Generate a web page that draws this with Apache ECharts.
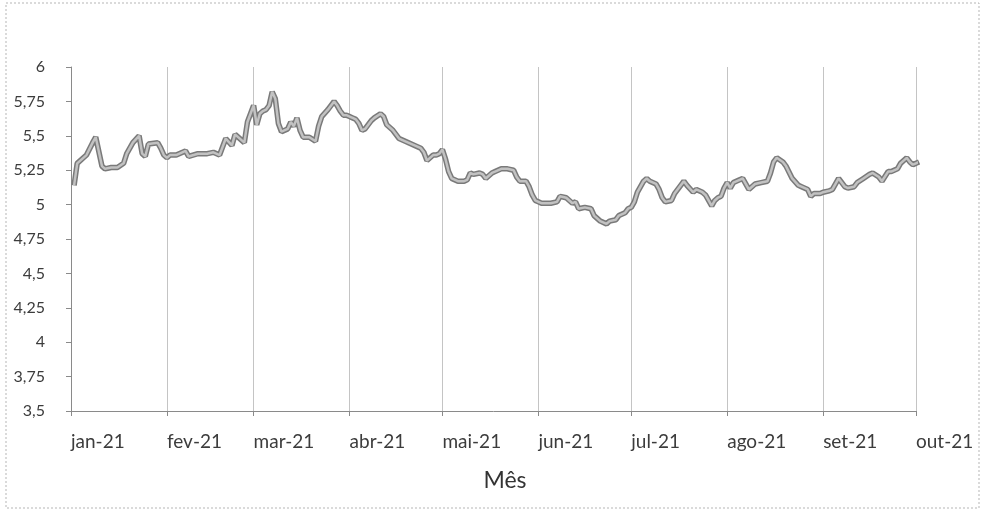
<!DOCTYPE html>
<html><head><meta charset="utf-8">
<script src="https://cdn.jsdelivr.net/npm/echarts@6/dist/echarts.min.js"></script>
<style>html,body{margin:0;padding:0;background:#fff}#c{width:982px;height:515px}</style>
</head><body><div id="c"></div>
<script>
const dates = [
'2021-01-02','2021-01-03','2021-01-05','2021-01-06','2021-01-08','2021-01-09','2021-01-11','2021-01-12','2021-01-14','2021-01-16',
'2021-01-18','2021-01-19','2021-01-21','2021-01-23','2021-01-24','2021-01-25','2021-01-26','2021-01-29','2021-01-30','2021-01-31',
'2021-02-01','2021-02-02','2021-02-04','2021-02-07','2021-02-08','2021-02-11','2021-02-14','2021-02-16','2021-02-18','2021-02-20',
'2021-02-22','2021-02-23','2021-02-26','2021-02-27',
'2021-03-01','2021-03-02','2021-03-03','2021-03-04','2021-03-05','2021-03-06','2021-03-07','2021-03-08','2021-03-09','2021-03-10',
'2021-03-12','2021-03-13','2021-03-14','2021-03-15','2021-03-16','2021-03-17','2021-03-19','2021-03-21','2021-03-22','2021-03-23',
'2021-03-25','2021-03-27','2021-03-28','2021-03-29','2021-03-30','2021-03-31',
'2021-04-01','2021-04-02','2021-04-03','2021-04-04','2021-04-05','2021-04-06','2021-04-08','2021-04-09','2021-04-11','2021-04-12',
'2021-04-13','2021-04-15','2021-04-17','2021-04-19','2021-04-22','2021-04-24','2021-04-25','2021-04-26','2021-04-28','2021-04-29','2021-04-30',
'2021-05-01','2021-05-02','2021-05-03','2021-05-04','2021-05-06','2021-05-08','2021-05-09','2021-05-10','2021-05-11','2021-05-13',
'2021-05-14','2021-05-15','2021-05-17','2021-05-18','2021-05-20','2021-05-22','2021-05-24','2021-05-25','2021-05-26','2021-05-28',
'2021-05-29','2021-05-30','2021-05-31',
'2021-06-01','2021-06-02','2021-06-03','2021-06-05','2021-06-07','2021-06-08','2021-06-10','2021-06-12','2021-06-13','2021-06-14',
'2021-06-16','2021-06-18','2021-06-19','2021-06-21','2021-06-23','2021-06-24','2021-06-26','2021-06-27','2021-06-29','2021-06-30',
'2021-07-01','2021-07-02','2021-07-03','2021-07-04','2021-07-05','2021-07-06','2021-07-07','2021-07-09','2021-07-10','2021-07-11',
'2021-07-12','2021-07-14','2021-07-15','2021-07-17','2021-07-18','2021-07-19','2021-07-21','2021-07-22','2021-07-24','2021-07-25',
'2021-07-27','2021-07-28','2021-07-29','2021-07-30','2021-07-31',
'2021-08-01','2021-08-02','2021-08-03','2021-08-05','2021-08-06','2021-08-07','2021-08-08','2021-08-10','2021-08-12','2021-08-14',
'2021-08-15','2021-08-16','2021-08-17','2021-08-19','2021-08-20','2021-08-22','2021-08-24','2021-08-25','2021-08-27','2021-08-28',
'2021-08-29','2021-08-31',
'2021-09-01','2021-09-03','2021-09-04','2021-09-05','2021-09-06','2021-09-08','2021-09-09','2021-09-11','2021-09-12','2021-09-14',
'2021-09-16','2021-09-17','2021-09-19','2021-09-20','2021-09-22','2021-09-23','2021-09-25','2021-09-26','2021-09-28','2021-09-29',
'2021-09-30','2021-10-01','2021-10-02'
];
const values = [
5.14,5.30,5.34,5.36,5.45,5.49,5.28,5.26,5.27,5.27,
5.30,5.37,5.45,5.50,5.37,5.35,5.44,5.45,5.41,5.36,
5.34,5.36,5.36,5.39,5.35,5.37,5.37,5.38,5.36,5.48,
5.43,5.51,5.45,5.60,
5.72,5.58,5.66,5.68,5.69,5.72,5.82,5.77,5.59,5.53,
5.55,5.60,5.57,5.63,5.54,5.49,5.49,5.46,5.57,5.64,
5.69,5.75,5.72,5.68,5.65,5.65,
5.64,5.63,5.62,5.59,5.54,5.55,5.61,5.63,5.66,5.64,
5.58,5.54,5.48,5.46,5.43,5.41,5.38,5.32,5.36,5.36,5.37,
5.40,5.33,5.24,5.19,5.17,5.17,5.18,5.23,5.22,5.23,
5.22,5.19,5.23,5.24,5.26,5.26,5.25,5.20,5.17,5.17,
5.13,5.07,5.03,
5.02,5.01,5.01,5.01,5.02,5.06,5.05,5.01,5.02,4.97,
4.98,4.97,4.92,4.88,4.86,4.88,4.89,4.92,4.94,4.97,
4.98,5.02,5.09,5.13,5.17,5.19,5.17,5.15,5.11,5.05,
5.02,5.03,5.08,5.14,5.17,5.14,5.09,5.11,5.09,5.07,
4.99,5.03,5.05,5.06,5.12,
5.16,5.12,5.16,5.18,5.19,5.15,5.11,5.15,5.16,5.17,
5.23,5.31,5.34,5.31,5.28,5.19,5.14,5.13,5.11,5.06,
5.08,5.08,
5.09,5.10,5.11,5.15,5.19,5.13,5.12,5.13,5.16,5.19,
5.22,5.23,5.20,5.17,5.24,5.24,5.26,5.30,5.34,5.31,
5.29,5.30,5.31
];
const monthStarts = ['2021-01-01','2021-02-01','2021-03-01','2021-04-01','2021-05-01','2021-06-01','2021-07-01','2021-08-01','2021-09-01','2021-10-01'];
const monthLabels = ['jan-21','fev-21','mar-21','abr-21','mai-21','jun-21','jul-21','ago-21','set-21','out-21'];
const yMin = 3.5, yMax = 6, yStep = 0.25;
const axisTitle = 'Mês';

function ts(s){const p=s.split('-');return Date.UTC(+p[0],+p[1]-1,+p[2]);}
const tickTs = monthStarts.map(ts);
const seriesData = dates.map((d,i)=>[ts(d), values[i]]);
const FONT = 'Lato';

const chart = echarts.init(document.getElementById('c'), null, {renderer:'canvas'});
chart.setOption({
  animation:false,
  backgroundColor:'#ffffff',
  grid:{left:71, right:66, top:67, bottom:104, containLabel:false},
  xAxis:{
    type:'value', min:tickTs[0], max:tickTs[tickTs.length-1],
    name: axisTitle, nameLocation:'middle', nameGap:58,
    nameTextStyle:{fontFamily:FONT, fontSize:23, color:'#333', padding:[0,0,0,23]},
    axisLine:{show:true, lineStyle:{color:'#8a8a8a', width:1}},
    axisTick:{show:true, inside:false, length:5, customValues:tickTs, lineStyle:{color:'#8a8a8a'}},
    axisLabel:{show:true, customValues:tickTs, align:'left', margin:21, fontFamily:FONT, fontSize:19, color:'#3c3c3c',
      formatter:function(v){let k=0,b=Infinity;tickTs.forEach((t,i)=>{const d=Math.abs(t-v);if(d<b){b=d;k=i;}});return monthLabels[k];}},
    splitLine:{show:true, lineStyle:{color:'#c4c4c4', width:1}}
  },
  yAxis:{
    type:'value', min:yMin, max:yMax, interval:yStep,
    axisLine:{show:true, lineStyle:{color:'#8a8a8a', width:1}},
    axisTick:{show:true, inside:false, length:5, lineStyle:{color:'#8a8a8a'}},
    axisLabel:{show:true, margin:26, fontFamily:FONT, fontSize:16, color:'#3c3c3c',
      formatter:function(v){return String(+v.toFixed(2)).replace('.',',');}},
    splitLine:{show:false}
  },
  graphic:[{type:'rect', shape:{x:6,y:3,width:973,height:505}, style:{fill:null, stroke:'#b5b5b5', lineWidth:1, lineDash:[2,2]}, silent:true, z:-1}],
  series:[
    {type:'line', data:seriesData, showSymbol:false, clip:false, lineStyle:{color:'#7a7a7a', width:5.5}, z:2},
    {type:'line', data:seriesData, showSymbol:false, clip:false, lineStyle:{color:'#c2c2c2', width:2.5}, z:3}
  ]
});
</script></body></html>
